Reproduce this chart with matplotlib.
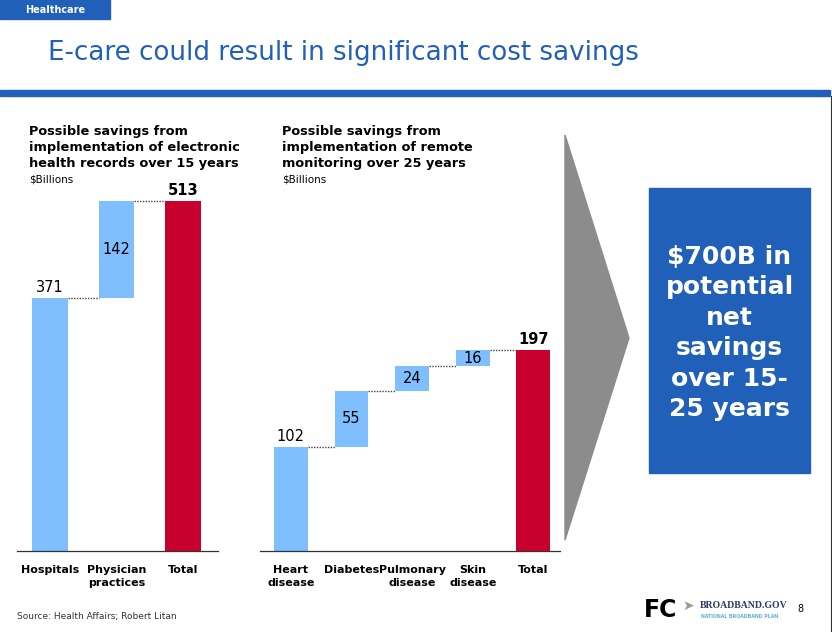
import matplotlib
matplotlib.use("Agg")
from matplotlib import pyplot as plt
from matplotlib.patches import Rectangle, Polygon
import numpy as np

# Data
ehr_cats = ["Hospitals", "Physician\npractices", "Total"]
ehr_vals = [371, 142]
ehr_total = 513

rm_cats = ["Heart\ndisease", "Diabetes", "Pulmonary\ndisease", "Skin\ndisease", "Total"]
rm_vals = [102, 55, 24, 16]
rm_total = 197

LIGHT = "#80BFFF"
RED = "#C8002D"
BLUE = "#2060B8"
W, H = 832, 632

fig = plt.figure(figsize=(W / 100, H / 100), dpi=100)
plt.rcParams["font.family"] = ["DejaVu Sans"]


def fx(x):
    return x / W


def fy(y):
    return 1 - y / H


def px_text(x, y, s, **kw):
    fig.text(fx(x), fy(y), s, **kw)


# Header
fig.patches.append(Rectangle((0, fy(19)), fx(110), 19 / H, transform=fig.transFigure,
                             color=BLUE, zorder=0))
px_text(55, 10, "Healthcare", color="white", fontsize=7, fontweight="bold",
        ha="center", va="center")
px_text(48, 53, "E-care could result in significant cost savings", color=BLUE,
        fontsize=18.8, ha="left", va="center")
fig.patches.append(Rectangle((0, fy(96)), fx(830), 6 / H, transform=fig.transFigure,
                             color=BLUE, zorder=0))
fig.lines.append(plt.Line2D([fx(830.5), fx(830.5)], [fy(96), fy(632)],
                            transform=fig.transFigure, color="#333333", lw=0.8))


def waterfall(ax, cats, vals, total, width):
    bottoms = np.concatenate([[0], np.cumsum(vals)[:-1]])
    xs = np.arange(len(cats))
    ax.bar(xs[:-1], vals, bottom=bottoms, width=width, color=LIGHT, zorder=2)
    ax.bar(xs[-1], total, width=width, color=RED, zorder=2)
    tops = bottoms + np.array(vals)
    # connectors
    for i, t in enumerate(tops):
        ax.plot([xs[i] + width / 2, xs[i + 1] - width / 2], [t, t], color="#444444",
                lw=1.0, ls=(0, (1, 1)), zorder=1)
    # labels
    ymax = ax.get_ylim()[1]
    off = ymax * 0.008
    ax.text(xs[0], vals[0] + off, str(vals[0]), ha="center", va="bottom", fontsize=10.5)
    for i in range(1, len(vals)):
        ax.text(xs[i], bottoms[i] + vals[i] / 2, str(vals[i]), ha="center", va="center",
                fontsize=10.5)
    ax.text(xs[-1], total + off, str(total), ha="center", va="bottom", fontsize=10.5,
            fontweight="bold")
    ax.set_xticks(xs)
    ax.set_xticklabels(cats, fontsize=8, fontweight="bold", linespacing=1.4)
    ax.tick_params(axis="x", length=0, pad=10)
    ax.set_yticks([])
    for s in ["top", "right", "left"]:
        ax.spines[s].set_visible(False)
    ax.spines["bottom"].set_color("#333333")
    ax.spines["bottom"].set_linewidth(0.9)


# Left chart: axes spans x 17..218, y 190..551
ax1 = fig.add_axes([fx(17), fy(551), (218 - 17) / W, (551 - 190) / H])
ax1.set_xlim(-0.5, 2.53)
ax1.set_ylim(0, ehr_total * 361 / 350)
waterfall(ax1, ehr_cats, ehr_vals, ehr_total, 0.54)

# Right chart: axes spans x 260..560
ax2 = fig.add_axes([fx(260), fy(551), (560 - 260) / W, (551 - 190) / H])
ax2.set_xlim(-0.51, 4.44)
ax2.set_ylim(0, rm_total * 361 / 201)
waterfall(ax2, rm_cats, rm_vals, rm_total, 0.56)

# Chart subtitles
sub_kw = dict(fontsize=9.3, fontweight="bold", ha="left", va="center", linespacing=1.3)
px_text(29, 147, "Possible savings from\nimplementation of electronic\nhealth records over 15 years",
        **sub_kw)
px_text(29, 179, "$Billions", fontsize=7.5, ha="left", va="center")
px_text(282, 147, "Possible savings from\nimplementation of remote\nmonitoring over 25 years",
        **sub_kw)
px_text(282, 179, "$Billions", fontsize=7.5, ha="left", va="center")

# Grey chevron
pts = [(565, 135), (629, 338), (565, 540)]
fig.patches.append(Polygon([(fx(a), fy(b)) for a, b in pts], closed=True,
                           transform=fig.transFigure, color="#8C8C8C"))

# Blue callout
fig.patches.append(Rectangle((fx(649), fy(473)), (810 - 649) / W, (473 - 188) / H,
                             transform=fig.transFigure, color=BLUE))
px_text(729.5, 333, "$700B in\npotential\nnet\nsavings\nover 15-\n25 years", color="white",
        fontsize=18, fontweight="bold", ha="center", va="center", linespacing=1.34)

# Footer
px_text(17, 616, "Source: Health Affairs; Robert Litan", fontsize=6.5, color="#333333",
        ha="left", va="center")
px_text(644, 610, "FC", fontsize=17, fontweight="bold", ha="left", va="center",
        color="black")
px_text(682, 606, "\u27a4", fontsize=10, color="#9A9A9A", ha="left", va="center")
px_text(700, 605, "BROADBAND.GOV", fontsize=7, fontweight="bold", family="Liberation Serif",
        color="#2B3A67", ha="left", va="center")
px_text(701, 616, "NATIONAL BROADBAND PLAN", fontsize=3.4, fontweight="bold",
        color="#5FB0E0", ha="left", va="center")
px_text(800, 609, "8", fontsize=7, ha="center", va="center")

fig.savefig("out.png", dpi=100)
